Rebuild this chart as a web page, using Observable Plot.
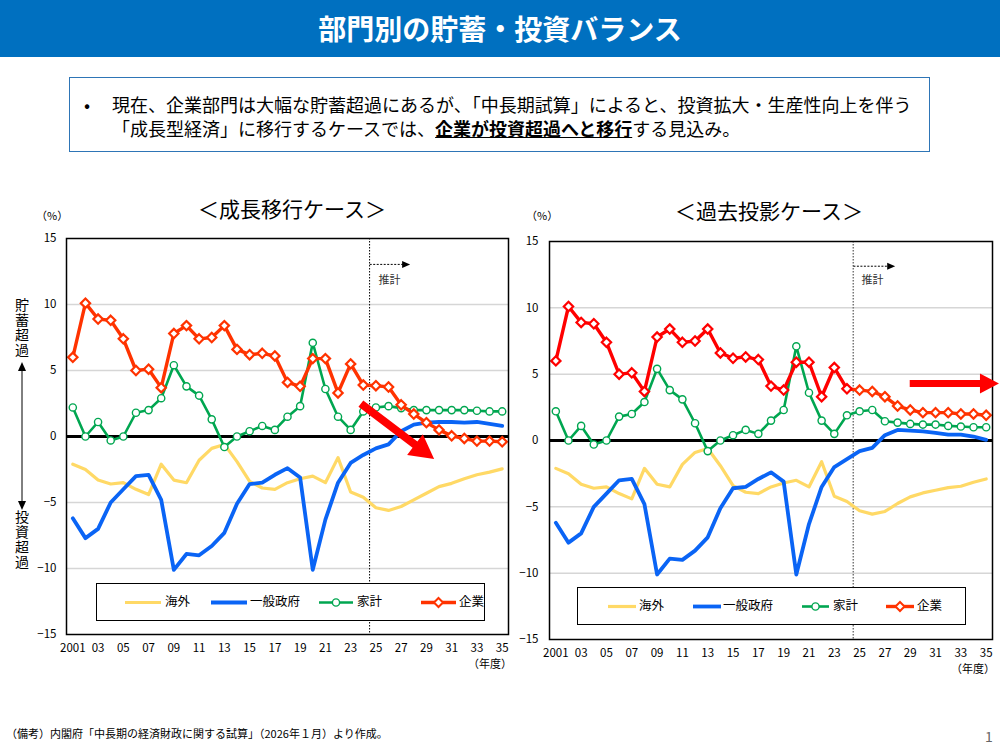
<!DOCTYPE html>
<html><head><meta charset="utf-8">
<script src="https://cdn.jsdelivr.net/npm/d3@7"></script>
<script src="https://cdn.jsdelivr.net/npm/@observablehq/plot@0.6"></script>
<style>
body{margin:0;width:1000px;height:750px;position:relative;background:#fff;font-family:'Noto Sans CJK JP','Noto Sans',sans-serif;overflow:hidden;color:#000}
.abs{position:absolute;white-space:nowrap}
#header{left:0;top:0;width:1000px;height:57px;background:#0070C0;color:#fff;font-weight:bold;font-size:28px;text-align:center;line-height:57px}
#box{left:69px;top:77px;width:859px;height:73px;border:1.5px solid #2E75B6}
.btxt{font-size:18px;line-height:24px}
.ctitle{font-size:21px;line-height:26px;transform:translateX(-50%)}
.small{font-size:11px;line-height:14px}
.vlab{writing-mode:vertical-rl;font-size:14px;line-height:16px;letter-spacing:1px}
.legend{border:1px solid #000;background:#fff;box-sizing:border-box}
.legend span{position:absolute;font-size:12.5px;line-height:16px;top:9px}
.legend svg{position:absolute;top:0;left:0}
</style></head>
<body>
<div id="header" class="abs">部門別の貯蓄・投資バランス</div>
<div id="box" class="abs"></div>
<div class="abs btxt" style="left:84px;top:92px">•</div>
<div class="abs btxt" style="left:112px;top:92px">現在、企業部門は大幅な貯蓄超過にあるが、「中長期試算」によると、投資拡大・生産性向上を伴う</div>
<div class="abs btxt" style="left:112px;top:116px">「成長型経済」に移行するケースでは、<b><u>企業が投資超過へと移行</u></b>する見込み。</div>
<div class="abs ctitle" style="left:292px;top:195px">＜成長移行ケース＞</div>
<div class="abs ctitle" style="left:769px;top:197px">＜過去投影ケース＞</div>
<div class="abs small" style="left:36px;top:208px">（%）</div>
<div class="abs small" style="left:526px;top:208px">（%）</div>
<div class="abs vlab" style="left:14px;top:298px">貯蓄超過</div>
<div class="abs vlab" style="left:14px;top:510px">投資超過</div>
<svg class="abs" style="left:14px;top:362px" width="16" height="148">
  <line x1="8" y1="4" x2="8" y2="144" stroke="#000" stroke-width="1"/>
  <path d="M8,0 L4,9 L12,9 Z" fill="#000"/>
  <path d="M8,148 L4,139 L12,139 Z" fill="#000"/>
</svg>
<div id="chartL" class="abs" style="left:0;top:220px"></div>
<div id="chartR" class="abs" style="left:500px;top:220px"></div>
<div class="abs small" style="left:468px;top:656px">（年度）</div>
<div class="abs small" style="left:951px;top:661px">（年度）</div>
<div class="abs" style="left:6px;top:726px;font-size:11px;line-height:14px">（備考）内閣府「中長期の経済財政に関する試算」（2026年１月）より作成。</div>
<div class="abs" style="left:985px;top:726px;font-size:14px;color:#666">1</div>
<script>
// ---------------- DATA ----------------
const years = [2001,2002,2003,2004,2005,2006,2007,2008,2009,2010,2011,2012,2013,2014,2015,2016,2017,2018,
  2019,2020,2021,2022,2023,2024,2025,2026,2027,2028,2029,2030,2031,2032,2033,2034,2035];
const seriesNames = ["海外", "一般政府", "家計", "企業"];

// actuals 2001-2024 (% of GDP)
const overseasHist  = [-2.1,-2.5,-3.3,-3.6,-3.5,-4.0,-4.4,-2.1,-3.3,-3.5,-1.8,-0.9,-0.6,-1.9,-3.4,-3.9,-4.0,-3.5,-3.2,-3.0,-3.5,-1.6,-4.2,-4.6];
const govHist       = [-6.2,-7.7,-7.0,-5.0,-4.0,-3.0,-2.9,-4.8,-10.1,-8.9,-9.0,-8.3,-7.3,-5.1,-3.6,-3.5,-2.9,-2.4,-3.1,-10.1,-6.3,-3.5,-2.0,-1.4];
const householdHist = [2.2,0.0,1.1,-0.3,0.0,1.8,2.0,2.9,5.4,3.8,3.1,1.3,-0.8,0.0,0.4,0.8,0.5,1.5,2.3,7.1,3.6,1.5,0.5,1.9];
const corpHist      = [6.0,10.1,8.9,8.8,7.4,5.0,5.1,3.7,7.8,8.4,7.4,7.5,8.4,6.6,6.2,6.3,6.1,4.1,3.8,5.9,5.9,3.3,5.5,3.9];

// projections 2025-2035: growth-transition case
const growthOverseas  = [-5.4,-5.6,-5.3,-4.8,-4.3,-3.8,-3.55,-3.2,-2.9,-2.7,-2.45];
const growthGov       = [-0.9,-0.6,0.4,0.9,1.05,1.1,1.1,1.05,1.1,0.95,0.8];
const growthHousehold = [2.2,2.3,2.15,2.0,2.0,2.0,2.0,2.0,1.95,1.9,1.9];
const growthCorp      = [3.85,3.75,2.4,1.7,1.05,0.5,0.05,-0.15,-0.35,-0.35,-0.4];

// projections 2025-2035: past-projection case
const pastOverseas  = [-5.3,-5.55,-5.35,-4.75,-4.25,-3.95,-3.75,-3.55,-3.45,-3.15,-2.9];
const pastGov       = [-0.8,-0.55,0.4,0.8,0.75,0.68,0.58,0.45,0.45,0.3,0.05];
const pastHousehold = [2.2,2.3,1.45,1.35,1.25,1.2,1.2,1.1,1.05,1.0,1.0];
const pastCorp      = [3.8,3.7,3.3,2.6,2.3,2.1,2.1,2.1,2.0,2.0,1.9];

const xTicks = [2001,2003,2005,2007,2009,2011,2013,2015,2017,2019,2021,2023,2025,2027,2029,2031,2033,2035];
const xTickLabels = ["2001","03","05","07","09","11","13","15","17","19","21","23","25","27","29","31","33","35"];
const yTicks = [-15,-10,-5,0,5,10,15];
const gridValues = [-10,-5,5,10];
const projectionStart = 2024.5;
const estimateLabel = "推計";

// annotation arrows (data coordinates)
const growthArrow = {x1: 2023.85, y1: 2.45, x2: 2029.65, y2: -1.75};
const pastArrow   = {x1: 2029.0,  y1: 4.26, x2: 2036.05, y2: 4.26};
const growthEst = {x1: 2024.55, y: 13.0, x2: 2027.75, tx: 2025.2, ty: 11.85};
const pastEst   = {x1: 2024.55, y: 13.1, x2: 2027.85, tx: 2025.15, ty: 12.1};

// ---------------- BUILD ----------------
const colors = {"海外":"#FFD966","一般政府":"#0A64F5","家計":"#00A650","企業":"#FF3300"};
const FONT = "'Noto Sans CJK JP','Noto Sans',sans-serif";

function buildRows(proj) {
  const hist = [overseasHist, govHist, householdHist, corpHist];
  const rows = [];
  seriesNames.forEach((name, s) => {
    hist[s].concat(proj[s]).forEach((v, i) => rows.push({year: years[i], series: name, value: v}));
  });
  return rows;
}

function bigArrow(a, shaft, headLen, headW, color) {
  return (index, scales) => {
    const x0 = scales.x(a.x1), y0 = scales.y(a.y1), x1 = scales.x(a.x2), y1 = scales.y(a.y2);
    const dx = x1 - x0, dy = y1 - y0, L = Math.hypot(dx, dy), ux = dx / L, uy = dy / L, nx = -uy, ny = ux;
    const bx = x1 - ux * headLen, by = y1 - uy * headLen;
    const p = [[x0+nx*shaft/2,y0+ny*shaft/2],[bx+nx*shaft/2,by+ny*shaft/2],[bx+nx*headW/2,by+ny*headW/2],[x1,y1],
               [bx-nx*headW/2,by-ny*headW/2],[bx-nx*shaft/2,by-ny*shaft/2],[x0-nx*shaft/2,y0-ny*shaft/2]];
    return d3.create("svg:path").attr("d", "M" + p.map(q => q.join(",")).join("L") + "Z").attr("fill", color).node();
  };
}
function estArrow(e) {
  return (index, scales) => {
    const g = d3.create("svg:g");
    const x0 = scales.x(e.x1), x1 = scales.x(e.x2), y = scales.y(e.y);
    g.append("line").attr("x1", x0).attr("x2", x1 - 7).attr("y1", y).attr("y2", y)
      .attr("stroke", "#000").attr("stroke-width", 1).attr("stroke-dasharray", "2 1.5");
    g.append("path").attr("d", `M${x1},${y}L${x1-8},${y-3.5}L${x1-8},${y+3.5}Z`).attr("fill", "#000");
    return g.node();
  };
}

function makeChart(proj, o) {
  const rows = buildRows(proj);
  const of = n => rows.filter(d => d.series === n);
  const corp = of("企業");
  return Plot.plot({
    width: o.width, height: o.height,
    marginLeft: o.ml, marginRight: o.mr, marginTop: o.mt, marginBottom: o.mb,
    x: {domain: [2000.5, 2035.5]},
    y: {domain: [-15, 15]},
    style: {fontFamily: FONT, fontSize: "11.5px", color: "#000", background: "transparent", overflow: "visible"},
    marks: [
      Plot.gridY(gridValues, {stroke: "#d6d6d6", strokeOpacity: 1, strokeWidth: 1.5}),
      Plot.ruleY([0], {stroke: "#000", strokeWidth: 3}),
      Plot.ruleX([projectionStart], {stroke: o.dotColor, strokeWidth: o.dotWidth, strokeDasharray: "1.5 1.5"}),
      Plot.line(of("海外"), {x: "year", y: "value", stroke: colors["海外"], strokeWidth: 3.2}),
      Plot.line(of("一般政府"), {x: "year", y: "value", stroke: colors["一般政府"], strokeWidth: 3.8}),
      Plot.line(of("家計"), {x: "year", y: "value", stroke: colors["家計"], strokeWidth: 2.6}),
      Plot.dot(of("家計"), {x: "year", y: "value", r: 3.6, fill: "#fff", stroke: colors["家計"], strokeWidth: 1.4}),
      Plot.line(corp.filter(d => d.year <= 2024), {x: "year", y: "value", stroke: o.corpHistColor, strokeWidth: 3.4}),
      Plot.line(corp.filter(d => d.year >= 2024), {x: "year", y: "value", stroke: colors["企業"], strokeWidth: 3.4}),
      Plot.dot(corp, {x: "year", y: "value", symbol: "diamond2", r: 4.2, fill: "#fff",
        stroke: d => d.year <= 2024 ? o.corpHistColor : colors["企業"], strokeWidth: 2.2}),
      Plot.frame({stroke: "#000", strokeWidth: 1.5}),
      Plot.axisX(xTicks, {tickSize: 0, tickPadding: 9, label: null, fontSize: 11.5,
        tickFormat: d => xTickLabels[xTicks.indexOf(d)]}),
      Plot.axisY(yTicks, {tickSize: 0, tickPadding: o.ypad, label: null, fontSize: 11.5,
        tickFormat: d => d < 0 ? "−" + (-d) : String(d)}),
      estArrow(o.est),
      Plot.text([o.est], {x: "tx", y: "ty", text: () => estimateLabel, textAnchor: "start", fontSize: 11, fill: "#333"}),
      bigArrow(o.arrow, o.shaft, o.headLen, o.headW, "#FF0000")
    ]
  });
}

document.getElementById("chartL").append(makeChart(
  [growthOverseas, growthGov, growthHousehold, growthCorp],
  {width: 515, height: 445, ml: 66, mr: 7, mt: 18, mb: 31, ypad: 10, dotColor: "#000", dotWidth: 1,
   corpHistColor: "#FF3300", est: growthEst, arrow: growthArrow, shaft: 8, headLen: 24, headW: 26}));
document.getElementById("chartR").append(makeChart(
  [pastOverseas, pastGov, pastHousehold, pastCorp],
  {width: 500, height: 450, ml: 49, mr: 8, mt: 21, mb: 31, ypad: 11, dotColor: "#777", dotWidth: 1.5,
   corpHistColor: "#FF0000", est: pastEst, arrow: pastArrow, shaft: 7, headLen: 19, headW: 20}));

// ---------------- LEGENDS ----------------
function legend(left, top, width, height, pos) {
  const div = document.createElement("div");
  div.className = "abs legend";
  Object.assign(div.style, {left: left + "px", top: top + "px", width: width + "px", height: height + "px"});
  let svg = `<svg width="${width}" height="${height}">`;
  seriesNames.forEach((n, i) => {
    const [a, b] = pos[i], y = height / 2 - 0.5, c = colors[n];
    const w = n === "一般政府" ? 3.8 : n === "海外" ? 3.2 : n === "家計" ? 2.6 : 3.4;
    svg += `<line x1="${a}" x2="${b}" y1="${y}" y2="${y}" stroke="${c}" stroke-width="${w}"/>`;
    const m = (a + b) / 2;
    if (n === "家計") svg += `<circle cx="${m}" cy="${y}" r="3.6" fill="#fff" stroke="${c}" stroke-width="1.4"/>`;
    if (n === "企業") svg += `<path d="M${m},${y-4.5}L${m+4.5},${y}L${m},${y+4.5}L${m-4.5},${y}Z" fill="#fff" stroke="${c}" stroke-width="2"/>`;
  });
  svg += "</svg>";
  div.innerHTML = svg + seriesNames.map((n, i) => `<span style="left:${pos[i][2]}px">${n}</span>`).join("");
  document.body.append(div);
}
legend(96, 583, 389, 38, [[28, 64, 68], [114, 150, 153], [222, 256, 260], [324, 359, 362]]);
legend(577, 587, 389, 38, [[30, 58, 61], [115, 143, 145], [224, 251, 255], [308, 336, 339]]);
</script>
</body></html>
